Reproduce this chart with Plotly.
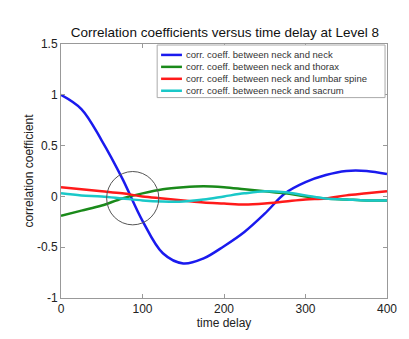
import plotly.graph_objects as go

delay = [0, 25, 50, 75, 100, 125, 150, 175, 200, 225, 250, 275, 300, 325, 350, 375, 400]
neck_neck = [1.00, 0.86, 0.55, 0.18, -0.24, -0.56, -0.66, -0.61, -0.49, -0.35, -0.17, 0.03, 0.14, 0.21, 0.25, 0.25, 0.22]
neck_thorax = [-0.19, -0.14, -0.09, -0.02, 0.03, 0.07, 0.09, 0.10, 0.09, 0.07, 0.05, 0.03, 0.00, -0.02, -0.03, -0.04, -0.04]
neck_lumbar = [0.09, 0.07, 0.05, 0.03, 0.00, -0.02, -0.04, -0.06, -0.07, -0.08, -0.07, -0.05, -0.03, -0.02, 0.01, 0.03, 0.05]
neck_sacrum = [0.03, 0.01, 0.00, -0.02, -0.04, -0.05, -0.05, -0.03, 0.00, 0.03, 0.05, 0.04, 0.01, -0.02, -0.03, -0.04, -0.04]

names = ["corr. coeff. between neck and neck", "corr. coeff. between neck and thorax",
         "corr. coeff. between neck and lumbar spine", "corr. coeff. between neck and sacrum"]
series = [neck_neck, neck_thorax, neck_lumbar, neck_sacrum]
colors = ["#1a1aee", "#1a8a1a", "#ff1a1a", "#1ac8c8"]

x_ticks = [0, 100, 200, 300, 400]
y_ticks = [-1, -0.5, 0, 0.5, 1, 1.5]
y_tick_text = ["-1", "-0.5", "0", "0.5", "1", "1.5"]

circle_x = [56, 120]
circle_y = [-0.28, 0.245]

fig = go.Figure()
for n, s, c in zip(names, series, colors):
    fig.add_trace(go.Scatter(x=delay, y=s, name=n, mode="lines", showlegend=False,
                             line=dict(color=c, width=2.5, shape="spline", smoothing=1.0)))

fig.add_shape(type="circle", xref="x", yref="y", x0=circle_x[0], x1=circle_x[1],
              y0=circle_y[0], y1=circle_y[1], line=dict(color="#555555", width=1))

# compact MATLAB-style legend box (paper coordinates)
leg_box = dict(x0=0.295, x1=0.994, y0=0.789, y1=0.996)
leg_rows = [0.957, 0.910, 0.863, 0.816]
fig.add_shape(type="rect", xref="paper", yref="paper", layer="above",
              fillcolor="white", line=dict(color="#aaaaaa", width=1), **leg_box)
for n, c, yr in zip(names, colors, leg_rows):
    fig.add_shape(type="line", xref="paper", yref="paper", x0=0.307, x1=0.371, y0=yr, y1=yr,
                  line=dict(color=c, width=2.5), layer="above")
    fig.add_annotation(xref="paper", yref="paper", x=0.377, y=yr, xanchor="left", yanchor="middle",
                       text=n, showarrow=False, font=dict(size=9.5, color="#333333"))

axis_common = dict(showgrid=False, zeroline=False, showline=True, linecolor="#999999",
                   linewidth=1, mirror="ticks", ticks="inside", ticklen=4, tickcolor="#999999",
                   tickfont=dict(size=12, color="#222222"))

fig.update_layout(
    width=409, height=339,
    margin=dict(l=61, r=19, t=44, b=39),
    paper_bgcolor="white", plot_bgcolor="white",
    font=dict(family="Liberation Sans, Arial, sans-serif", color="#222222"),
    title=dict(text="Correlation coefficients versus time delay at Level 8",
               x=0.55, xanchor="center", y=0.905, yanchor="middle",
               font=dict(size=13.5, color="#111111")),
    xaxis=dict(range=[0, 400], tickvals=x_ticks,
               title=dict(text="time delay", font=dict(size=12), standoff=2), **axis_common),
    yaxis=dict(range=[-1, 1.5], tickvals=y_ticks, ticktext=y_tick_text,
               title=dict(text="correlation coefficient", font=dict(size=12), standoff=0), **axis_common),
    showlegend=False,
)

fig.write_html("out.html")
